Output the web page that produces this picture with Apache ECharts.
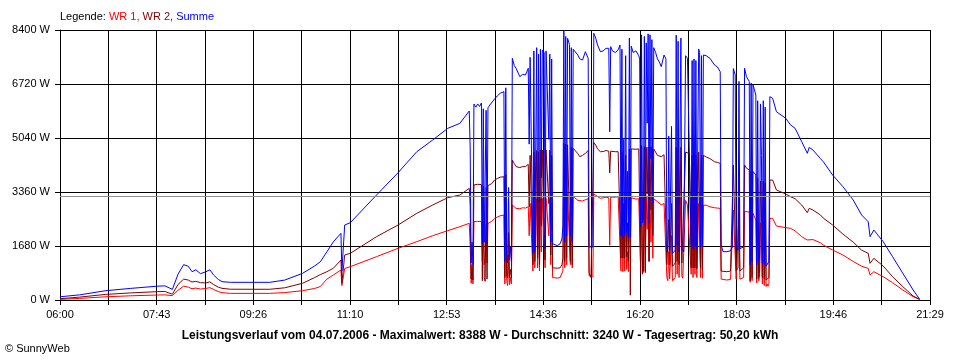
<!DOCTYPE html>
<html>
<head>
<meta charset="utf-8">
<script src="https://cdn.jsdelivr.net/npm/echarts@6/dist/echarts.min.js"></script>
<style>
html,body{margin:0;padding:0;background:#fff;}
#c{width:960px;height:360px;}
</style>
</head>
<body>
<div id="c"></div>
<script>
// minutes since 06:00
const minutes = [0,21,49,75,104,112,120,126,132,137,141,145,150,156,160,164,169,173,182,224,240,259,272,278,285,292,300,301,304,310,338,361,381,398,414,427,437,
438,439,440,441,442,444,446,448,450,451,452,453,454,455,456,457,459,461,464,467,470,474,475,476,477,478,479,480,481,482,483,485,487,491,494,497,500,501,502,504,
505,506,507,508,509,510,511,512,513,514,515,517,518,519,521,522,523,524,525,526,528,531,534,536,537,538,539,540,541,542,544,545,546,547,548,550,553,555,558,561,564,
565,567,569,570,572,574,577,580,583,586,587,588,590,593,596,598,599,600,601,602,603,604,605,606,607,608,609,610,612,615,618,619,620,621,622,623,624,625,626,627,628,
629,630,631,632,633,634,636,638,640,642,645,647,648,649,650,651,652,653,654,655,657,658,659,660,661,662,663,664,665,666,668,670,672,674,675,676,677,678,679,680,681,
682,683,684,685,686,687,690,694,699,702,705,706,708,712,716,718,719,721,722,724,725,726,728,730,731,733,736,737,738,739,740,743,744,745,746,747,748,749,750,751,752,
753,754,755,756,757,758,761,765,775,780,785,792,798,800,804,812,815,825,836,847,856,863,865,869,879,889,900,911,918];

const wr1 = [20,50,100,130,155,160,135,300,430,400,350,370,340,360,385,330,260,228,207,207,230,290,360,420,650,780,933,450,980,1037,1348,1607,1815,2001,2157,2281,2385,
1700,520,800,500,2437,2420,2440,2430,2450,1200,2400,1100,1300,2350,1150,2380,2385,2450,2540,2580,2620,2644,500,2680,600,450,1400,480,700,500,2955,2900,2850,2840,2870,2860,2900,2000,3000,3050,
900,3100,1000,950,3150,1000,3100,900,3150,1500,3160,3150,1000,3160,3170,2000,3150,1100,3000,700,675,680,700,750,900,3318,1000,3300,1100,3280,3250,1100,3230,1000,3220,3214,3100,3058,3080,3120,3150,
750,700,720,3300,3266,3220,3163,3180,3200,3180,1700,3200,3214,3200,3214,3250,900,3200,880,2000,900,3100,950,1500,880,3250,1800,3180,3150,3140,3150,3100,1000,3250,800,1100,3250,900,3200,2200,3230,
1200,3200,1800,3200,1300,3150,3100,3058,3000,2960,3000,3020,700,600,1500,650,700,2000,600,620,700,3200,800,3150,700,650,3200,750,680,700,3100,2955,2960,800,2900,700,2950,800,2900,700,650,
3000,2950,700,2950,680,2950,2950,2900,2870,2860,2851,650,622,622,640,700,2800,2750,650,700,2700,650,680,700,2750,2750,2740,550,2720,600,2700,2489,530,2450,600,700,2400,1800,500,2450,450,
2400,420,500,430,500,2540,2540,2302,2250,2230,2150,1970,1867,1919,1880,1780,1711,1556,1400,1200,1050,985,778,880,726,539,311,103,20];

const wr2 = [40,90,175,220,260,265,180,480,650,620,560,580,540,530,565,480,400,363,335,333,380,520,700,790,880,990,1244,520,1400,1452,1970,2333,2697,2955,3183,3266,3474,
2950,650,1100,620,3578,3560,3600,3570,3590,600,3550,700,580,3500,650,3560,3578,3620,3733,3780,3820,3836,700,3900,800,680,2100,700,950,690,4355,4250,4150,4120,4150,4150,4220,2900,4500,4550,
1100,4600,1200,1150,4650,1300,4600,1100,4670,2300,4667,4650,1250,4670,4680,3000,4660,1400,4500,1000,985,990,1000,1100,1300,4875,1200,4850,1300,4830,4780,1200,4750,1100,4720,4719,4550,4459,4500,4563,4650,
850,700,750,4900,4822,4700,4614,4620,4650,4630,3950,4630,4614,4614,4614,4650,1300,4600,1300,3000,1300,4500,1350,2400,1200,4700,150,4700,4700,4690,4700,4650,850,4800,830,900,4770,850,4750,3300,4760,
1200,4770,2800,4770,2000,4700,4600,4500,4460,4460,4520,4560,1100,1050,2500,1100,1150,3000,1050,1100,1150,4750,1200,4700,1100,1080,4750,1150,1100,1120,4600,4563,4560,1000,4500,1000,4550,1000,4511,980,1000,
4600,4550,1000,4500,950,4500,4450,4400,4300,4280,4251,900,880,880,900,950,4200,4150,900,1000,4100,900,950,1000,4200,4100,4050,600,4000,700,4000,3889,650,3800,700,900,3700,2800,700,3700,650,
3650,620,650,600,700,3733,3733,3422,3300,3214,3150,2955,2717,2851,2800,2644,2550,2333,2050,1800,1550,1452,1141,1296,1058,726,415,124,20];

const summe = [100,160,290,360,430,440,330,800,1100,1050,880,940,820,880,940,780,640,570,550,550,620,830,1060,1190,1500,1815,2074,900,2333,2405,3266,3960,4614,4978,5340,5496,5880,
4730,1150,1800,1100,6098,6000,6100,6020,6130,1750,5950,1800,1850,5900,1750,5980,6066,6080,6253,6350,6430,6482,1200,6600,1450,1150,3500,1250,1650,1200,7519,7300,7208,6949,7020,7000,7208,4850,7550,7600,
1450,7750,1500,1450,7850,1600,7650,1400,7800,3800,7780,7700,1600,7750,7800,5000,7650,1800,7500,1750,1711,1690,1750,1900,2300,8388,1800,8200,2000,8140,7950,2000,7850,1800,7800,7750,7620,7500,7466,7726,7519,
1650,1600,1650,8297,8150,7933,7726,7750,7830,7830,5237,7881,7750,7700,7780,7933,2000,7800,1930,5000,2000,7600,2100,4000,1950,8150,1950,7900,7700,7750,7600,7500,2300,8250,2400,2500,8200,2300,8000,5500,8280,
2400,8250,4400,8100,3000,7850,7700,7500,7400,7260,7622,7500,1600,1500,5100,1550,1600,5400,1450,1500,1550,8240,1700,8050,1500,1450,8150,1600,1550,1500,7600,7520,7550,1700,7450,1600,7500,1650,7450,1600,1550,
7810,7700,1650,7600,1700,7622,7600,7519,7311,7250,7103,1711,1503,1503,1530,1650,7200,7000,1650,1550,6800,1600,1550,1650,7208,6950,6800,1100,6750,1200,6700,6378,1100,6200,1200,1300,6100,4500,1150,6200,1100,
6000,1050,1100,1050,1200,6326,6274,5859,5652,5450,5340,4926,4563,4749,4667,4400,4304,3889,3526,3111,2644,2437,1970,2178,1815,1348,830,311,20];

const tickLabels = ['06:00','07:43','09:26','11:10','12:53','14:36','16:20','18:03','19:46','21:29'];
const yMax = 8400, yStep = 1680;
const xMax = 929;
const average = 3240;
const titleText = 'Leistungsverlauf vom 04.07.2006 - Maximalwert: 8388 W - Durchschnitt: 3240 W - Tagesertrag: 50,20 kWh';

const pairs = arr => minutes.map((m, i) => [m, arr[i]]);
const step = xMax / 18;
const FONT = 'Liberation Sans';

const chart = echarts.init(document.getElementById('c'), null, {renderer: 'canvas'});
const lineSeries = (name, arr, color, extra) => Object.assign({
  name, type: 'line', data: pairs(arr), showSymbol: false, symbol: 'none',
  lineStyle: {color, width: 1}, itemStyle: {color}, animation: false, silent: true, sampling: null
}, extra || {});

const legendRich = c => ({color: c, fontSize: 11, fontFamily: FONT, fontWeight: 'normal'});

chart.setOption({
  backgroundColor: '#ffffff',
  animation: false,
  textStyle: {fontFamily: FONT},
  title: [
    {
      left: 60, top: 11,
      text: '{a|Legende: }{b|WR 1, }{c|WR 2, }{d|Summe}',
      textStyle: {
        fontWeight: 'normal', fontSize: 11,
        rich: {
          a: legendRich('#000'),
          b: legendRich('#ff0000'),
          c: legendRich('#800000'),
          d: legendRich('#0000ff')
        }
      },
      padding: 0
    },
    {
      left: 'center', top: 330, padding: 0,
      text: titleText,
      textStyle: {color: '#000', fontSize: 12, fontWeight: 'bold', fontFamily: FONT}
    },
    {
      left: 5, top: 343, padding: 0,
      text: '© SunnyWeb',
      textStyle: {color: '#000', fontSize: 11, fontWeight: 'normal', fontFamily: FONT}
    }
  ],
  grid: {left: 60, right: 30, top: 30, bottom: 60, containLabel: false},
  xAxis: {
    type: 'value', min: 0, max: xMax, interval: step,
    axisLine: {show: true, lineStyle: {color: '#000', width: 1}},
    axisTick: {show: true, length: 5, lineStyle: {color: '#000'}},
    splitLine: {show: true, lineStyle: {color: '#000', width: 1}},
    axisLabel: {
      color: '#000', fontSize: 11, fontFamily: FONT, margin: 9,
      showMinLabel: true, showMaxLabel: true, hideOverlap: false,
      formatter: v => {
        const k = Math.round(v / step);
        if (k % 2 !== 0) return '';
        return tickLabels[k / 2] || '';
      }
    }
  },
  yAxis: {
    type: 'value', min: 0, max: yMax, interval: yStep,
    axisLine: {show: true, lineStyle: {color: '#000', width: 1}},
    axisTick: {show: true, length: 5, lineStyle: {color: '#000'}},
    splitLine: {show: true, lineStyle: {color: '#000', width: 1}},
    axisLabel: {color: '#000', fontSize: 11, fontFamily: FONT, margin: 10, formatter: v => v + ' W'}
  },
  series: [
    lineSeries('WR 1', wr1, '#ff0000'),
    lineSeries('WR 2', wr2, '#800000'),
    lineSeries('Summe', summe, '#0000ff', {
      markLine: {
        silent: true, symbol: 'none', animation: false,
        label: {show: false},
        lineStyle: {color: '#909090', width: 1, type: 'solid'},
        data: [{yAxis: average}]
      }
    })
  ]
});
</script>
</body>
</html>
